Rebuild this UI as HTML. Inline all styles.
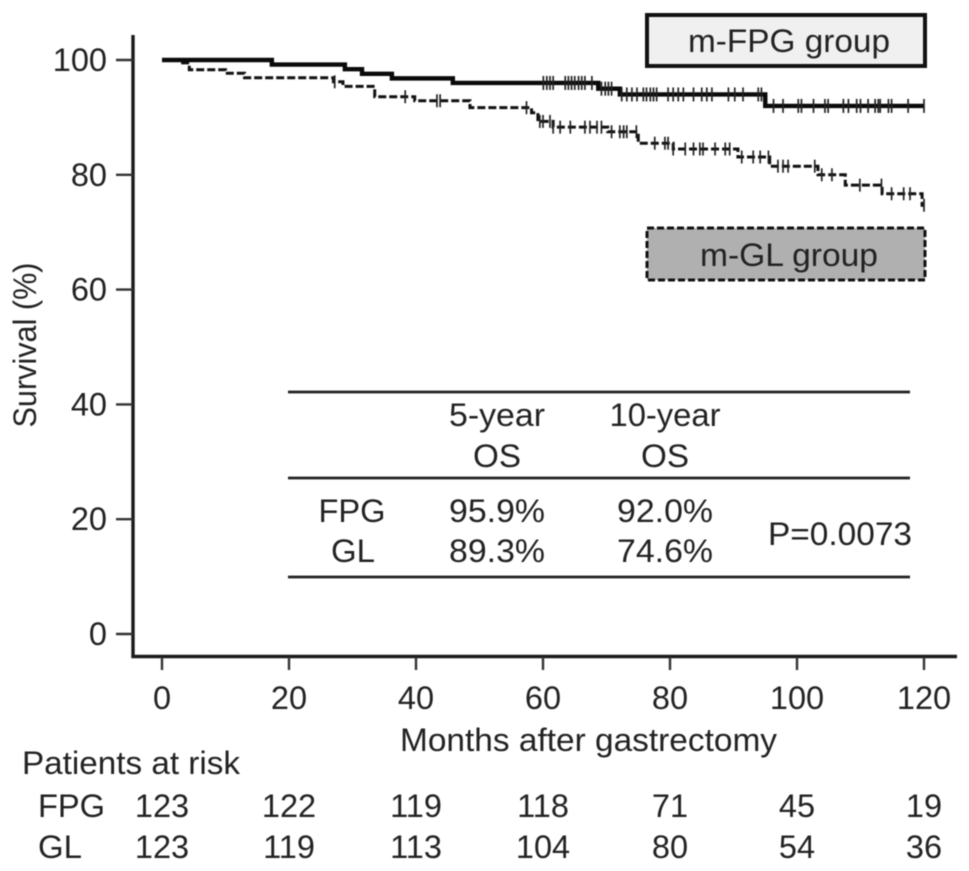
<!DOCTYPE html>
<html><head><meta charset="utf-8"><style>
html,body{margin:0;padding:0;background:#fff;width:969px;height:871px;overflow:hidden}
svg{display:block;filter:blur(0.5px)}
text{font-family:"Liberation Sans",sans-serif;font-size:32.5px;fill:#222}
</style></head><body>
<svg id="chart" width="969" height="871" viewBox="0 0 969 871" xmlns="http://www.w3.org/2000/svg">
<g>
<line x1="288" x2="910" y1="392" y2="392" stroke="#222" stroke-width="2.8"/>
<line x1="288" x2="910" y1="478" y2="478" stroke="#222" stroke-width="2.8"/>
<line x1="288" x2="910" y1="577" y2="577" stroke="#222" stroke-width="2.8"/>
<text x="497" y="426" text-anchor="middle" textLength="96" lengthAdjust="spacingAndGlyphs">5-year</text>
<text x="497" y="467" text-anchor="middle" textLength="48" lengthAdjust="spacingAndGlyphs">OS</text>
<text x="665" y="426" text-anchor="middle" textLength="111" lengthAdjust="spacingAndGlyphs">10-year</text>
<text x="665" y="467" text-anchor="middle" textLength="48" lengthAdjust="spacingAndGlyphs">OS</text>
<text x="352" y="522" text-anchor="middle" textLength="67" lengthAdjust="spacingAndGlyphs">FPG</text>
<text x="497" y="522" text-anchor="middle" textLength="96" lengthAdjust="spacingAndGlyphs">95.9%</text>
<text x="665" y="522" text-anchor="middle" textLength="96" lengthAdjust="spacingAndGlyphs">92.0%</text>
<text x="353" y="562" text-anchor="middle" textLength="44" lengthAdjust="spacingAndGlyphs">GL</text>
<text x="497" y="562" text-anchor="middle" textLength="96" lengthAdjust="spacingAndGlyphs">89.3%</text>
<text x="665" y="562" text-anchor="middle" textLength="96" lengthAdjust="spacingAndGlyphs">74.6%</text>
<text x="840" y="545" text-anchor="middle" textLength="144" lengthAdjust="spacingAndGlyphs">P=0.0073</text>
</g>
<g>
<rect x="647" y="15" width="278" height="51" fill="#f0f0f0" stroke="#111" stroke-width="4"/>
<text x="789" y="52" text-anchor="middle" textLength="202" lengthAdjust="spacingAndGlyphs">m-FPG group</text>
</g>
<g>
<rect x="647" y="228" width="278" height="52" fill="#b0b0b0" stroke="#111" stroke-width="3" stroke-dasharray="7 3"/>
<text x="789" y="266" text-anchor="middle" textLength="178" lengthAdjust="spacingAndGlyphs">m-GL group</text>
</g>
<text x="588.5" y="751" text-anchor="middle" textLength="377" lengthAdjust="spacingAndGlyphs">Months after gastrectomy</text>
<text transform="translate(36 345) rotate(-90)" text-anchor="middle" textLength="165" lengthAdjust="spacingAndGlyphs">Survival (%)</text>
<text x="22" y="774" textLength="218" lengthAdjust="spacingAndGlyphs">Patients at risk</text>
<text x="71.5" y="817" text-anchor="middle" textLength="67" lengthAdjust="spacingAndGlyphs">FPG</text>
<text x="60" y="858" text-anchor="middle" textLength="44" lengthAdjust="spacingAndGlyphs">GL</text>
</svg>
<script>
const xTicks = [0, 20, 40, 60, 80, 100, 120];
const yTicks = [0, 20, 40, 60, 80, 100];
const fpgAtRisk = [123, 122, 119, 118, 71, 45, 19];
const glAtRisk = [123, 119, 113, 104, 80, 54, 36];
const fpgMonths = [0, 17.3, 28.8, 31.5, 36.2, 45.8, 68.7, 72.1, 95];
const fpgSurvival = [100, 99.2, 98.4, 97.6, 96.8, 96, 95, 94, 92];
const fpgCensored = [60.05, 60.6, 61.1, 61.6, 63.5, 64, 64.5, 65, 65.6, 66.1, 66.6, 67.7, 69.2, 69.8, 70.3, 70.8, 72.4, 73.2, 74, 74.8, 75.8, 76.3, 76.9, 77.4, 77.9, 79.7, 80.5, 81.3, 82.1, 83.7, 85, 85.8, 86.6, 89.2, 90.2, 91.5, 93.9, 94.4, 96.3, 97.8, 100.2, 100.7, 102.6, 104.4, 104.9, 107.3, 108.1, 109.4, 110, 111.2, 112.3, 112.8, 113.1, 114.4, 114.9, 117.5, 120];
const glMonths = [0, 2.8, 4.3, 10, 13, 27, 28.5, 33.5, 39.8, 48.5, 58.2, 59.2, 61.6, 70.2, 75, 80.5, 90.7, 95.7, 103.3, 107.6, 113.4, 119.7];
const glSurvival = [100, 99.5, 98.3, 97.7, 96.9, 96.2, 95.4, 93.6, 92.9, 91.7, 90.8, 89.3, 88.3, 87.5, 85.5, 84.5, 83.1, 81.5, 80, 78.2, 76.7, 74.7];
const glCensored = [27.2, 38.3, 43.3, 43.8, 57.4, 59.5, 60, 61.1, 61.6, 62.7, 64.3, 66.6, 67.4, 68.5, 69.2, 70.8, 72.1, 72.7, 73.2, 74.7, 77.6, 79.2, 79.7, 80.5, 82.4, 83.7, 84.7, 85.2, 87.1, 88.7, 89.4, 91.3, 93.1, 94.2, 95.5, 97, 97.8, 98.6, 102.8, 103.9, 105.5, 109.9, 113.3, 114.9, 116.8, 117.8, 120];

const NS = 'http://www.w3.org/2000/svg';
const svg = document.getElementById('chart');
const X = m => 162 + m * (924 - 162) / 120;
const Y = s => 634 - s * (634 - 60) / 100;
function make(tag, attrs, parent) {
  const el = document.createElementNS(NS, tag);
  for (const k in attrs) el.setAttribute(k, attrs[k]);
  (parent || svg).appendChild(el);
  return el;
}
function survivalAt(months, values, m) {
  let v = values[0];
  for (let i = 0; i < months.length; i++) if (months[i] <= m) v = values[i];
  return v;
}
function stepPath(months, values) {
  let d = 'M' + X(months[0]) + ' ' + Y(values[0]);
  for (let i = 1; i < months.length; i++) d += 'H' + X(months[i]) + 'V' + Y(values[i]);
  return d + 'H' + X(120);
}

const axisLeft = make('line', {x1: 133, x2: 133, y1: 35, y2: 658, stroke: '#1a1a1a', 'stroke-width': 3.4});


const axisBottom = make('line', {x1: 131.5, x2: 957, y1: 656.5, y2: 656.5, stroke: '#1a1a1a', 'stroke-width': 3.4});



yTicks.forEach(t => {
  const tick = make('line', {x1: 116, x2: 133, y1: Y(t), y2: Y(t), stroke: '#333', 'stroke-width': 2.4});
  
  
  const label = make('text', {x: 107, y: Y(t) + 11, 'text-anchor': 'end'});
  
  
  label.textContent = t;
});
xTicks.forEach((t, i) => {
  const tick = make('line', {x1: X(t), x2: X(t), y1: 657, y2: 670, stroke: '#333', 'stroke-width': 2.4});
  
  
  const label = make('text', {x: X(t), y: 709, 'text-anchor': 'middle'});
  
  
  label.textContent = t;
  const a = make('text', {x: X(t), y: 817, 'text-anchor': 'middle'});
  
  
  a.textContent = fpgAtRisk[i];
  const b = make('text', {x: X(t), y: 858, 'text-anchor': 'middle'});
  
  
  b.textContent = glAtRisk[i];
});

const glLine = make('path', {d: stepPath(glMonths, glSurvival), fill: 'none', stroke: '#111', 'stroke-width': 3, 'stroke-dasharray': '8 3'});


const glMarks = make('g', {stroke: '#222', 'stroke-width': 1.7});


glCensored.forEach(m => {
  const y = Y(survivalAt(glMonths, glSurvival, m));
  const c = make('line', {x1: X(m), x2: X(m), y1: y - 6.5, y2: y + 6.5}, glMarks);
  
  
});

const fpgLine = make('path', {d: stepPath(fpgMonths, fpgSurvival), fill: 'none', stroke: '#0a0a0a', 'stroke-width': 4.4});


const fpgMarks = make('g', {stroke: '#222', 'stroke-width': 1.7});


fpgCensored.forEach(m => {
  const y = Y(survivalAt(fpgMonths, fpgSurvival, m));
  const c = make('line', {x1: X(m), x2: X(m), y1: y - 7, y2: y + 7}, fpgMarks);
  
  
});
</script>
</body></html>
